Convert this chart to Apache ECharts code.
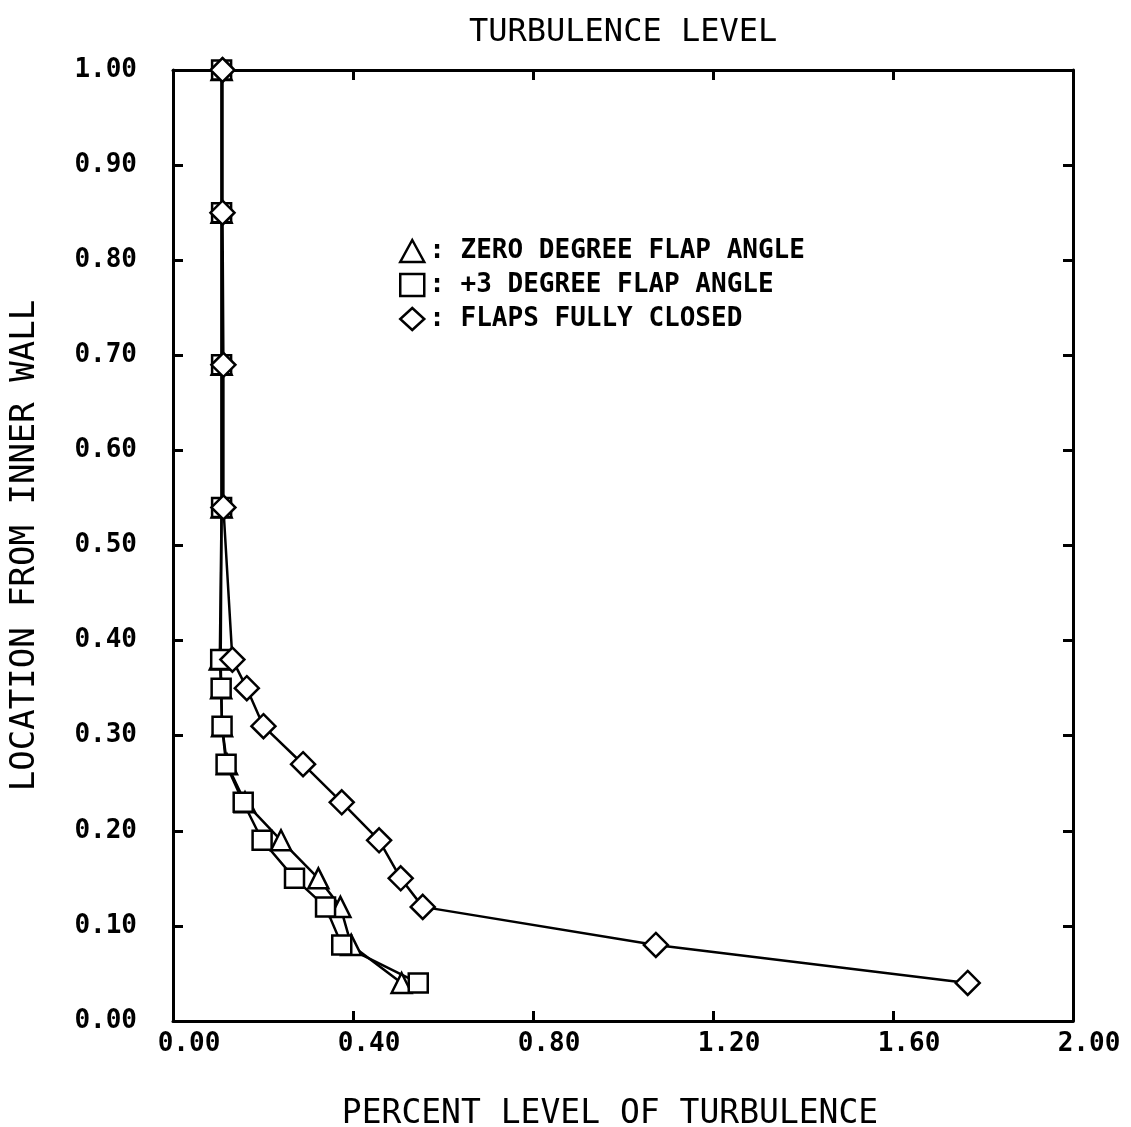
<!DOCTYPE html>
<html>
<head>
<meta charset="utf-8">
<script src="https://cdn.jsdelivr.net/npm/echarts@6/dist/echarts.min.js"></script>
<style>
html,body{margin:0;padding:0;background:#fff;}
#chart{width:1131px;height:1127px;}
</style>
</head>
<body>
<div id="chart"></div>
<script>
// Location from inner wall (shared by all three series)
var yLevels = [1.00, 0.85, 0.69, 0.54, 0.38, 0.35, 0.31, 0.27, 0.23, 0.19, 0.15, 0.12, 0.08, 0.04];
// Percent level of turbulence
var zeroDegX  = [0.108, 0.108, 0.108, 0.108, 0.104, 0.107, 0.109, 0.120, 0.160, 0.240, 0.323, 0.372, 0.396, 0.508];
var plus3DegX = [0.108, 0.108, 0.108, 0.108, 0.106, 0.107, 0.109, 0.118, 0.156, 0.198, 0.270, 0.339, 0.375, 0.545];
var closedX   = [0.110, 0.110, 0.112, 0.112, 0.132, 0.164, 0.201, 0.289, 0.375, 0.458, 0.506, 0.555, 1.073, 1.766];
var seriesNames = ['ZERO DEGREE FLAP ANGLE', '+3 DEGREE FLAP ANGLE', 'FLAPS FULLY CLOSED'];
var xTicks = [0, 0.4, 0.8, 1.2, 1.6, 2.0];
var yTicks = [0, 0.1, 0.2, 0.3, 0.4, 0.5, 0.6, 0.7, 0.8, 0.9, 1.0];

function pairs(xs) { return xs.map(function (x, i) { return [x, yLevels[i]]; }); }

var MONO = '"DejaVu Sans Mono", "Liberation Mono", monospace';
var chart = echarts.init(document.getElementById('chart'), null, {renderer: 'canvas'});

function mkSeries(name, xs, symbol, size) {
  return {
    name: name, type: 'line', data: pairs(xs),
    symbol: symbol, symbolSize: size, showAllSymbol: true,
    lineStyle: {color: '#000', width: 2.5},
    itemStyle: {color: '#fff', borderColor: '#000', borderWidth: 2.5},
    z: 3
  };
}

var axisCommon = {
  axisLine: {show: true, onZero: false, lineStyle: {color: '#000', width: 3}},
  axisTick: {show: true, inside: true, length: 10, lineStyle: {color: '#000', width: 3}},
  splitLine: {show: false}
};

chart.setOption({
  backgroundColor: '#fff',
  animation: false,
  title: {
    text: 'TURBULENCE LEVEL', left: 464, top: 12,
    textStyle: {fontFamily: MONO, fontSize: 32, fontWeight: 'normal', color: '#000'}
  },
  grid: {left: 173, right: 58, top: 70, bottom: 106, containLabel: false, outerBoundsMode: 'none'},
  legend: {
    orient: 'vertical', left: 394, top: 233,
    itemWidth: 24, itemHeight: 22, itemGap: 8,
    data: [
      {name: seriesNames[0], icon: 'triangle'},
      {name: seriesNames[1], icon: 'rect'},
      {name: seriesNames[2], icon: 'diamond'}
    ],
    itemStyle: {color: '#fff', borderColor: '#000', borderWidth: 2.5},
    lineStyle: {width: 0},
    formatter: function (n) { return ': ' + n; },
    textStyle: {fontFamily: MONO, fontSize: 26, fontWeight: 'bold', color: '#000', lineHeight: 20}
  },
  xAxis: [
    Object.assign({
      type: 'value', min: 0, max: 2.0, interval: 0.4, position: 'bottom',
      name: 'PERCENT LEVEL OF TURBULENCE', nameLocation: 'middle', nameGap: 77,
      nameTextStyle: {fontFamily: MONO, fontSize: 33, color: '#000', padding: [0, 26, 0, 0]},
      axisLabel: {
        fontFamily: MONO, fontSize: 26, fontWeight: 'bold', color: '#000', margin: 10,
        padding: [0, 0, 0, 32],
        formatter: function (v) { return v.toFixed(2); }
      }
    }, axisCommon),
    Object.assign({
      type: 'value', min: 0, max: 2.0, interval: 0.4, position: 'top',
      axisLabel: {show: false}
    }, axisCommon)
  ],
  yAxis: [
    Object.assign({
      type: 'value', min: 0, max: 1.0, interval: 0.1, position: 'left',
      name: 'LOCATION FROM INNER WALL', nameLocation: 'middle', nameGap: 131, nameRotate: 90,
      nameTextStyle: {fontFamily: MONO, fontSize: 34, color: '#000'},
      axisLabel: {
        fontFamily: MONO, fontSize: 26, fontWeight: 'bold', color: '#000', margin: 36,
        formatter: function (v) { return v.toFixed(2); }
      }
    }, axisCommon),
    Object.assign({
      type: 'value', min: 0, max: 1.0, interval: 0.1, position: 'right',
      axisLabel: {show: false}
    }, axisCommon)
  ],
  series: [
    mkSeries(seriesNames[0], zeroDegX, 'triangle', 20),
    mkSeries(seriesNames[1], plus3DegX, 'rect', 19),
    mkSeries(seriesNames[2], closedX, 'diamond', 24)
  ]
});
</script>
</body>
</html>
